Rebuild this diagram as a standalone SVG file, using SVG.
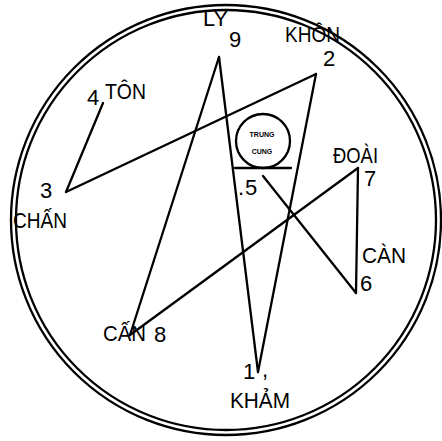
<svg xmlns="http://www.w3.org/2000/svg" width="442" height="441" viewBox="0 0 442 441">
<style>
.ln{stroke:#000;stroke-width:2.3;fill:none;stroke-linecap:round;stroke-linejoin:round}
.t{font-family:"Liberation Sans","DejaVu Sans",sans-serif;font-size:22px;fill:#000}
.s{font-family:"Liberation Sans","DejaVu Sans",sans-serif;font-size:7px;font-weight:bold;fill:#000;text-anchor:middle}
</style>
<rect width="442" height="441" fill="#fff"/>
<g id="frame">
<circle cx="226" cy="220" r="215" class="ln"/>
<circle cx="226" cy="220" r="210" class="ln"/>
</g>
<g id="connectors">
<line x1="103" y1="103" x2="66" y2="192" class="ln"/>
<line x1="66" y1="192" x2="316" y2="74" class="ln"/>
<line x1="219" y1="57" x2="130" y2="335" class="ln"/>
<line x1="219" y1="57" x2="258" y2="372" class="ln"/>
<line x1="316" y1="74" x2="258" y2="372" class="ln"/>
<line x1="263" y1="176" x2="356" y2="293" class="ln"/>
<line x1="356" y1="293" x2="358" y2="168" class="ln"/>
<line x1="358" y1="168" x2="130" y2="335" class="ln"/>
</g>
<g id="trung-cung">
<circle cx="263" cy="141" r="27" class="ln"/>
<line x1="235" y1="168" x2="291" y2="168" class="ln"/>
<text x="262" y="137" class="s">TRUNG</text>
<text x="262" y="154" class="s">CUNG</text>
</g>
<g id="ly"><text x="203" y="26" class="t" textLength="25" lengthAdjust="spacingAndGlyphs">LY</text><text x="229" y="47" class="t">9</text></g>
<g id="khon"><text x="285" y="42" class="t" textLength="55" lengthAdjust="spacingAndGlyphs">KHÔN</text><text x="323" y="66" class="t">2</text></g>
<g id="ton"><text x="87" y="105" class="t">4</text><text x="105" y="99" class="t" textLength="41" lengthAdjust="spacingAndGlyphs">TÔN</text></g>
<g id="chan"><text x="40" y="198" class="t">3</text><text x="13" y="228" class="t" textLength="54" lengthAdjust="spacingAndGlyphs">CHẤN</text></g>
<g id="doai"><text x="333" y="163" class="t" textLength="45" lengthAdjust="spacingAndGlyphs">ĐOÀI</text><text x="364" y="186" class="t">7</text></g>
<g id="trung"><text x="238" y="195" class="t">.</text><text x="245" y="195" class="t">5</text></g>
<g id="can6"><text x="362" y="263" class="t" textLength="44" lengthAdjust="spacingAndGlyphs">CÀN</text><text x="360" y="291" class="t">6</text></g>
<g id="can8"><text x="103" y="341" class="t" textLength="43" lengthAdjust="spacingAndGlyphs">CẤN</text><text x="154" y="342" class="t">8</text></g>
<g id="kham"><text x="243" y="379" class="t">1</text><text x="262" y="377" class="t">,</text><text x="230" y="408" class="t" textLength="60" lengthAdjust="spacingAndGlyphs">KHẢM</text></g>
</svg>
